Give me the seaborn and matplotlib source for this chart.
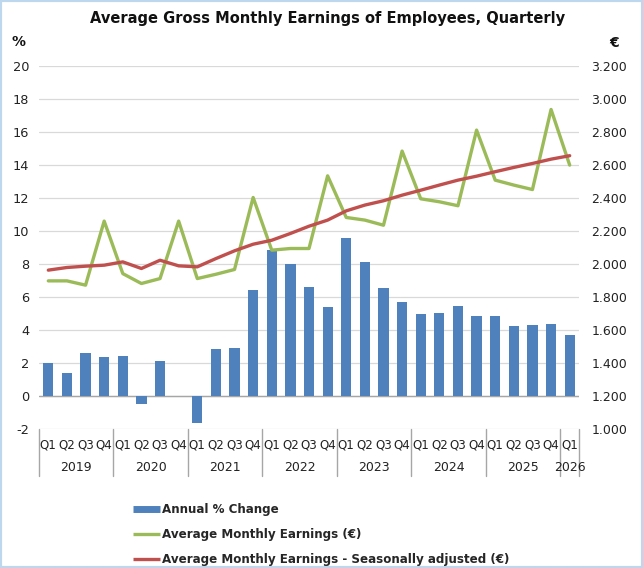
import numpy as np
import pandas as pd
import matplotlib
matplotlib.use('Agg')
import matplotlib.pyplot as plt
import seaborn as sns
from matplotlib.lines import Line2D
from matplotlib.patches import Rectangle
from matplotlib.ticker import FuncFormatter

years = ['2019', '2020', '2021', '2022', '2023', '2024', '2025', '2026']
quarters = ['Q1', 'Q2', 'Q3', 'Q4'] * 7 + ['Q1']
pct_change = [2.00, 1.41, 2.63, 2.38,
              2.42, -0.50, 2.12, 0.00,
              -1.62, 2.85, 2.89, 6.42,
              8.83, 7.98, 6.59, 5.41,
              9.56, 8.14, 6.55, 5.72,
              4.99, 5.03, 5.45, 4.83,
              4.87, 4.22, 4.28, 4.38,
              3.72]
earnings = [1897, 1897, 1871, 2259,
            1941, 1881, 1911, 2259,
            1911, 1937, 1966, 2402,
            2083, 2093, 2093, 2533,
            2281, 2265, 2234, 2683,
            2394, 2376, 2352, 2810,
            2507, 2477, 2450, 2935,
            2598]
earnings_sa = [1962, 1978, 1986, 1992,
               2012, 1972, 2022, 1988,
               1982, 2032, 2079, 2119,
               2143, 2184, 2228, 2265,
               2321, 2356, 2382, 2416,
               2446, 2477, 2507, 2531,
               2558, 2584, 2608, 2634,
               2655]
labels = ['Annual % Change', 'Average Monthly Earnings (€)',
          'Average Monthly Earnings - Seasonally adjusted (€)']

n = len(quarters)
period_year = [years[i // 4] for i in range(n)]
df = pd.DataFrame({
    'period': [f'{y} {q}' for y, q in zip(period_year, quarters)],
    'idx': range(n),
    'year': period_year,
    'pct': pct_change,
    'earn': earnings,
    'earn_sa': earnings_sa,
})

BLUE = '#4F81BD'
GREEN = '#9BBB59'
RED = '#C0504D'

sns.set_theme(style='white')
plt.rcParams['font.family'] = ['DejaVu Sans']
plt.rcParams['axes.unicode_minus'] = False

fig = plt.figure(figsize=(6.43, 5.68), dpi=100)
ax = fig.add_axes([39 / 643, 1 - 429 / 568, 540 / 643, 363.3 / 568])

sns.barplot(data=df, x='period', y='pct', color=BLUE, saturation=1,
            width=0.55, ax=ax, zorder=3, edgecolor=BLUE, linewidth=0)
ax.set_ylim(-2, 20)
ax.set_yticks(np.arange(-2, 21, 2))
ax.yaxis.grid(True, color='#D9D9D9', lw=0.9)
ax.set_axisbelow(True)
ax.axhline(0, color='#A6A6A6', lw=1, zorder=2)
for s in ax.spines.values():
    s.set_visible(False)
ax.set_xlabel('')
ax.set_ylabel('')
ax.set_xticks(range(n))
ax.set_xticklabels(quarters)
ax.tick_params(axis='x', length=0, pad=7, labelsize=8.6, colors='#222222')
ax.tick_params(axis='y', length=0, pad=7, labelsize=9.3, colors='#222222')

ax2 = ax.twinx()
sns.lineplot(data=df, x='idx', y='earn', color=GREEN, lw=2.4, ax=ax2, zorder=4)
sns.lineplot(data=df, x='idx', y='earn_sa', color=RED, lw=2.4, ax=ax2, zorder=5)
ax2.set_xlim(-0.5, n - 0.5)
ax.set_xlim(-0.5, n - 0.5)
ax2.set_ylim(1000, 3200)
ax2.set_yticks(np.arange(1000, 3201, 200))
ax2.yaxis.set_major_formatter(FuncFormatter(lambda v, p: f'{int(v):,}'.replace(',', '.')))
ax2.tick_params(axis='y', length=0, pad=9, labelsize=9.0, colors='#222222')
ax2.set_xlabel('')
ax2.set_ylabel('')
ax2.grid(False)
for s in ax2.spines.values():
    s.set_visible(False)

# year labels and separators
trans = ax.get_xaxis_transform()
bounds = [-0.5] + [i * 4 + 3.5 for i in range(7)] + [n - 0.5]
for b in bounds:
    ax.add_line(Line2D([b, b], [0, -0.13], transform=trans, color='#A6A6A6',
                       lw=1, clip_on=False))
for y in years:
    pos = df.loc[df['year'] == y, 'idx']
    ax.text(pos.mean(), -0.107, y, transform=trans, ha='center', va='center',
            fontsize=9.0, color='#222222')

fig.text(0.51, 1 - 18 / 568, 'Average Gross Monthly Earnings of Employees, Quarterly',
         ha='center', va='center', fontsize=10.5, fontweight='bold', color='#111111')
fig.text(18 / 643, 1 - 42 / 568, '%', ha='center', va='center', fontsize=10,
         fontweight='bold', color='#111111')
fig.text(614 / 643, 1 - 43 / 568, '€', ha='center', va='center', fontsize=10,
         fontweight='bold', color='#111111')

handles = [Line2D([], [], color=BLUE, lw=5, solid_capstyle='butt'),
           Line2D([], [], color=GREEN, lw=2.4, solid_capstyle='butt'),
           Line2D([], [], color=RED, lw=2.4, solid_capstyle='butt')]
fig.legend(handles, labels, loc='upper left', bbox_to_anchor=(133 / 643, 1 - 503 / 568),
           frameon=False, prop=dict(weight='bold', size=8.6), handlelength=2.25,
           handletextpad=0.17, labelspacing=1.0, borderaxespad=0, borderpad=0)

fig.patches.append(Rectangle((0, 0), 1, 1, transform=fig.transFigure, fill=False,
                             ec='#BDD7EE', lw=3))

fig.savefig('out.png', dpi=100)
